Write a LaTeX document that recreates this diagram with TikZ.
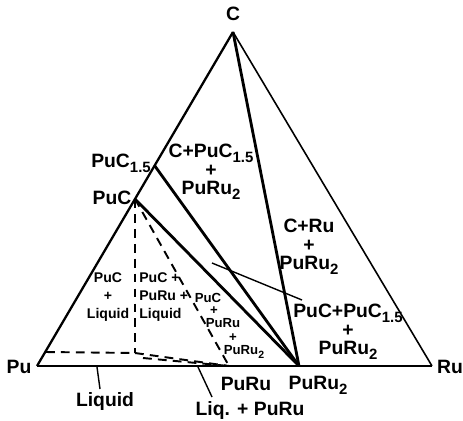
\documentclass[tikz,border=0pt]{standalone}
\usepackage{fontspec}
\setmainfont{Liberation Sans}
\newcommand\lowsub[1]{\raisebox{-0.5ex}{\fontsize{8.5}{8.5}\selectfont #1}}
\newcommand\smallsub[1]{\raisebox{-0.5ex}{\fontsize{6}{6}\selectfont #1}}
\begin{document}
\begin{tikzpicture}[x=0.02cm,y=-0.02cm,
  edge/.style={line width=1.3pt},
  thinedge/.style={line width=0.9pt},
  tie/.style={line width=1.6pt},
  dashline/.style={line width=1.1pt,dash pattern=on 5pt off 3.5pt},
  leader/.style={line width=0.8pt},
  lbl/.style={inner sep=0pt,font=\fontsize{11}{10.5}\selectfont\bfseries,align=center},
  midlbl/.style={inner sep=0pt,font=\fontsize{8}{10}\selectfont\bfseries,align=center},
  smlbl/.style={inner sep=0pt,font=\fontsize{7.5}{9}\selectfont\bfseries}]
\useasboundingbox (0,0) rectangle (463,420);
% vertices and compounds
\coordinate (Pu) at (37,366);
\coordinate (Ru) at (432,366);
\coordinate (C) at (233,32);
\coordinate (PuC) at (135,199);
\coordinate (PuC15) at (154.6,165.6);
\coordinate (PuRu2) at (299,366);
\coordinate (PuRu) at (229,366);
\coordinate (boxc) at (135,353);
\coordinate (boxl) at (46,352);
\coordinate (lq2) at (143,358);
% triangle
\draw[edge] (Pu) -- (C);
\draw[thinedge] (C) -- (Ru);
\draw[edge] (Pu) -- (Ru);
% tie lines
\draw[tie] (C) -- (PuRu2);
\draw[tie] (PuC15) -- (PuRu2);
\draw[tie] (PuC) -- (PuRu2);
% dashed boundaries
\draw[dashline] (PuC) -- (boxc);
\draw[dashline] (boxl) -- (boxc);
\draw[dashline] (PuC) -- (PuRu);
\draw[dashline] (boxc) -- (PuRu);
\draw[dashline] (lq2) -- (PuRu);
% labels
\node[lbl] (lC) at (233,14) {C};
\node[lbl] (lPu) at (19,367) {Pu};
\node[lbl] (lRu) at (450,367) {Ru};
\node[lbl] (lPuC15) at (121,163) {PuC\lowsub{1.5}};
\node[lbl] (lPuC) at (112,198) {PuC};
\node[lbl] (r1) at (211,172) {C+PuC\lowsub{1.5}\\+\\PuRu\lowsub{2}};
\node[lbl] (r2) at (309,247) {C+Ru\\+\\PuRu\lowsub{2}};
\node[lbl] (r3) at (348,332) {PuC+PuC\lowsub{1.5}\\+\\PuRu\lowsub{2}};
\node[midlbl] (r4) at (108,297) {PuC\\+\\Liquid};
\node[midlbl,anchor=west,align=left] (r5) at (139,297) {PuC +\\PuRu +\\Liquid};
\node[smlbl] (s1) at (208,298) {PuC};
\node[smlbl] (s2) at (214,311) {+};
\node[smlbl] (s3) at (223,323) {PuRu};
\node[smlbl] (s4) at (233,338) {+};
\node[smlbl] (s5) at (244,352) {PuRu\smallsub{2}};
\node[lbl] (lPuRu) at (246,384) {PuRu};
\node[lbl] (lPuRu2) at (318,385) {PuRu\lowsub{2}};
\node[lbl] (lLiq) at (105,401) {Liquid};
\node[lbl] (lLiqPuRu) at (250,410) {Liq. + PuRu};
% leader lines
\coordinate (a1) at (97,367);
\coordinate (a1e) at (100,389);
\coordinate (a2) at (198,367);
\coordinate (a2e) at (212,397);
\coordinate (p1) at (212,263);
\coordinate (p2) at (302,300);
\draw[leader] (a1) -- (a1e);
\draw[leader] (a2) -- (a2e);
\draw[leader] (p1) -- (p2);
\end{tikzpicture}
\end{document}
